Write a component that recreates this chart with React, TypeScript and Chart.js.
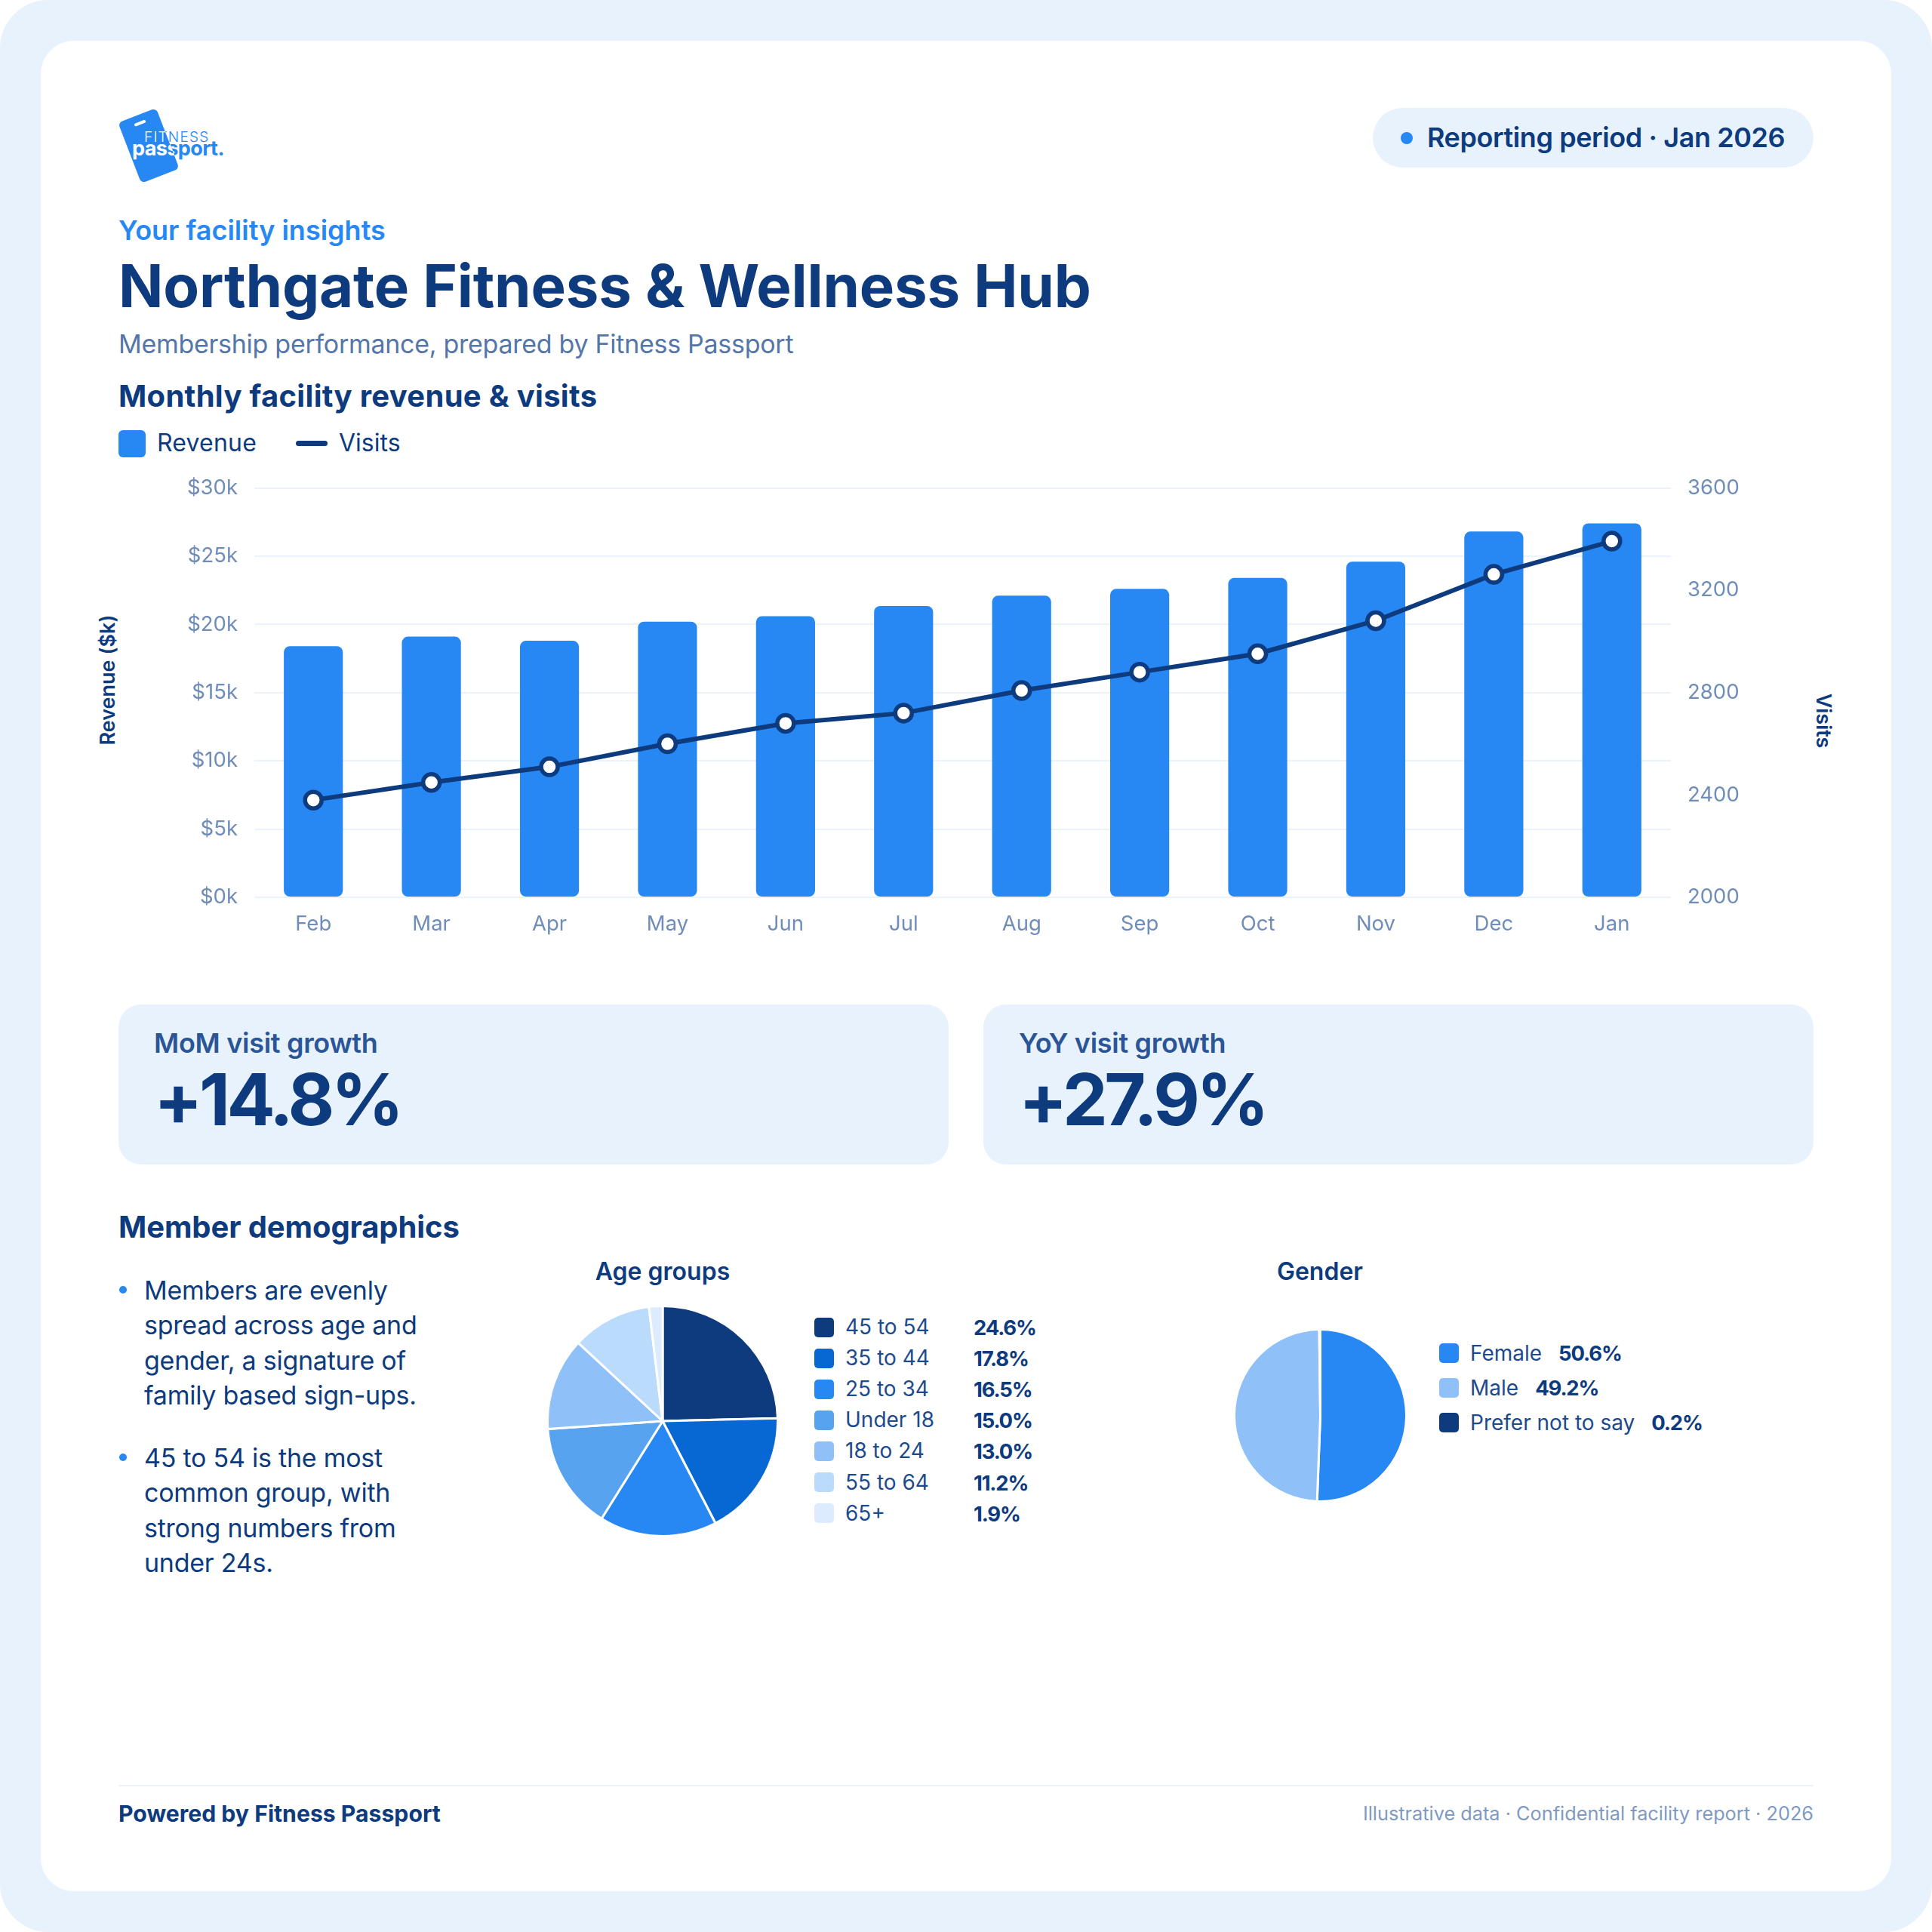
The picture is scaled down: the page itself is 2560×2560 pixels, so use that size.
import React, { useRef, useEffect } from 'react';
import { Chart, registerables } from 'chart.js';

Chart.register(...registerables);

const FONT = 'Inter, sans-serif';
const NAVY = '#0D3B7E';
const BLUE = '#2787F3';
const PALE = '#E8F2FD';
const GRID = '#EAF2FC';
const MUTED = '#6F8DB8';

const months = ['Feb', 'Mar', 'Apr', 'May', 'Jun', 'Jul', 'Aug', 'Sep', 'Oct', 'Nov', 'Dec', 'Jan'];
const revenue = [18.4, 19.1, 18.8, 20.2, 20.6, 21.35, 22.1, 22.6, 23.4, 24.6, 26.8, 27.4];
const visits = [2380, 2449, 2510, 2600, 2680, 2720, 2808, 2880, 2952, 3081, 3262, 3392];

const ageLabels = ['45 to 54', '35 to 44', '25 to 34', 'Under 18', '18 to 24', '55 to 64', '65+'];
const ageValues = [24.6, 17.8, 16.5, 15.0, 13.0, 11.2, 1.9];
const ageColors = ['#0D3B7E', '#0868D3', '#2787F3', '#58A3EF', '#8FC1F8', '#BBDBFC', '#DCEBFD'];

const genderLabels = ['Female', 'Male', 'Prefer not to say'];
const genderValues = [50.6, 49.2, 0.2];
const genderColors = ['#2787F3', '#8FC1F8', '#0D3B7E'];

const bulletOne = ['Members are evenly', 'spread across age and', 'gender, a signature of', 'family based sign-ups.'];
const bulletTwo = ['45 to 54 is the most', 'common group, with', 'strong numbers from', 'under 24s.'];

// text placed by its left edge (or right edge) and vertical centre
const T: React.FC<{ x?: number; right?: number; cy: number; size: number; weight?: number; color?: string; ls?: number; center?: boolean; children: React.ReactNode }> = ({ x, right, cy, size, weight = 400, color = NAVY, ls = 0, center, children }) => (
  <div style={{
    position: 'absolute', left: x, right: right !== undefined ? 2560 - right : undefined, top: cy,
    transform: center ? 'translate(-50%, -50%)' : 'translateY(-50%)',
    fontFamily: FONT, fontSize: size, fontWeight: weight, color, letterSpacing: ls, whiteSpace: 'nowrap', lineHeight: 1.2,
  }}>{children}</div>
);

const Box: React.FC<{ x: number; y: number; w: number; h: number; r: number; color: string }> = ({ x, y, w, h, r, color }) => (
  <div style={{ position: 'absolute', left: x, top: y, width: w, height: h, borderRadius: r, background: color }} />
);

const ComboChart: React.FC = () => {
  const canvas = useRef<HTMLCanvasElement>(null);

  useEffect(() => {
    if (!canvas.current) return;
    const tickFont = { family: FONT, size: 27.5 };
    const chart = new Chart(canvas.current, {
      type: 'bar',
      data: {
        labels: months,
        datasets: [
          {
            type: 'line', label: 'Visits', data: visits, yAxisID: 'y1', order: 0,
            borderColor: NAVY, borderWidth: 6, tension: 0,
            pointRadius: 11, pointBorderWidth: 5.5, pointBackgroundColor: '#fff', pointBorderColor: NAVY,
          },
          {
            type: 'bar', label: 'Revenue', data: revenue, yAxisID: 'y', order: 1,
            backgroundColor: BLUE, barPercentage: 0.5, categoryPercentage: 1, borderRadius: 8, borderSkipped: false,
          },
        ],
      },
      options: {
        responsive: false,
        animation: false,
        layout: { padding: { top: 25, left: 0, right: 0, bottom: 0 } },
        plugins: { legend: { display: false }, tooltip: { enabled: false } },
        scales: {
          x: {
            grid: { display: false }, border: { display: false },
            ticks: { color: MUTED, font: tickFont, padding: 11, maxRotation: 0 },
            afterFit: (s: any) => { s.height = 81; },
          },
          y: {
            position: 'left', min: 0, max: 30,
            grid: { color: GRID, lineWidth: 2, drawTicks: false }, border: { display: false },
            ticks: { stepSize: 5, color: MUTED, font: tickFont, padding: 22, callback: (v: any) => `$${v}k` },
            afterFit: (s: any) => { s.width = 137; },
          },
          y1: {
            position: 'right', min: 2000, max: 3600,
            grid: { display: false, drawTicks: false }, border: { display: false },
            ticks: { stepSize: 400, color: MUTED, font: tickFont, padding: 22, callback: (v: any) => String(v) },
            afterFit: (s: any) => { s.width = 146; },
          },
        },
      },
    } as any);
    return () => chart.destroy();
  }, []);

  return <canvas ref={canvas} width={2160} height={662} style={{ position: 'absolute', left: 200, top: 608, width: 2160, height: 662 }} />;
};

const Pie: React.FC<{ cx: number; cy: number; r: number; labels: string[]; values: number[]; colors: string[] }> = ({ cx, cy, r, labels, values, colors }) => {
  const canvas = useRef<HTMLCanvasElement>(null);

  useEffect(() => {
    if (!canvas.current) return;
    const chart = new Chart(canvas.current, {
      type: 'pie',
      data: { labels, datasets: [{ data: values, backgroundColor: colors, borderColor: '#fff', borderWidth: 3 }] },
      options: {
        responsive: false,
        animation: false,
        plugins: { legend: { display: false }, tooltip: { enabled: false } },
      },
    });
    return () => chart.destroy();
  }, []);

  const size = 2 * r + 3;
  return <canvas ref={canvas} width={size} height={size} style={{ position: 'absolute', left: cx - size / 2, top: cy - size / 2, width: size, height: size }} />;
};

const logoClip = 'polygon(157px 162px, 207px 143px, 238px 223px, 189px 242px)';

const Logo: React.FC = () => {
  const words = (color: string) => (
    <>
      <T x={191} cy={182} size={19} weight={300} color={color} ls={1.2}>FITNESS</T>
      <T x={175} cy={197} size={27} weight={700} color={color} ls={-0.6}>passport.</T>
    </>
  );
  return (
    <>
      {words(BLUE)}
      <div style={{ position: 'absolute', left: 170, top: 150, width: 54, height: 86, borderRadius: 6, background: BLUE, transform: 'rotate(-21deg)' }}>
        <div style={{ position: 'absolute', left: 19, top: 9, width: 16, height: 4, borderRadius: 2, background: '#fff' }} />
      </div>
      <div style={{ position: 'absolute', left: 0, top: 0, width: 2560, height: 400, clipPath: logoClip }}>{words('#fff')}</div>
    </>
  );
};

const Bullet: React.FC<{ lines: string[]; y: number }> = ({ lines, y }) => (
  <>
    <Box x={158} y={y - 5} w={10} h={10} r={5} color={BLUE} />
    {lines.map((line, i) => <T key={line} x={191} cy={y + 1 + i * 46.4} size={34} ls={-0.24}>{line}</T>)}
  </>
);

const StatCard: React.FC<{ x: number; label: string; value: string }> = ({ x, label, value }) => (
  <>
    <Box x={x} y={1331} w={1100} h={212} r={30} color={PALE} />
    <T x={x + 47} cy={1383} size={36} weight={600} color="#2B5596" ls={-0.3}>{label}</T>
    <T x={x + 47} cy={1457} size={95} weight={700} ls={-4.5}>{value}</T>
  </>
);

const App: React.FC = () => {
  useEffect(() => {
    document.body.style.margin = '0';
    document.body.style.background = '#fff';
  }, []);

  return (
    <div style={{ position: 'relative', width: 2560, height: 2560, overflow: 'hidden', background: '#fff' }}>
      <Box x={0} y={0} w={2560} h={2560} r={64} color={PALE} />
      <Box x={54} y={54} w={2452} h={2452} r={44} color="#fff" />

      <Logo />
      <Box x={1819} y={143} w={584} h={79} r={40} color={PALE} />
      <Box x={1856} y={175} w={16} h={16} r={8} color={BLUE} />
      <T x={1891} cy={183} size={36} weight={600} ls={-0.42}>Reporting period · Jan 2026</T>

      <T x={157} cy={306} size={36} weight={600} color={BLUE}>Your facility insights</T>
      <T x={157} cy={379} size={78} weight={700} ls={-0.2}>Northgate Fitness &amp; Wellness Hub</T>
      <T x={157} cy={456} size={34} color="#5576A8" ls={-0.28}>Membership performance, prepared by Fitness Passport</T>
      <T x={157} cy={525} size={40} weight={700} ls={0.3}>Monthly facility revenue &amp; visits</T>

      <Box x={157} y={570} w={36} h={36} r={6} color={BLUE} />
      <T x={208} cy={587} size={32} ls={0.2}>Revenue</T>
      <Box x={392} y={584} w={42} h={7} r={3.5} color={NAVY} />
      <T x={449} cy={587} size={32}>Visits</T>

      <ComboChart />
      <div style={{ position: 'absolute', left: 142, top: 901, transform: 'translate(-50%, -50%) rotate(-90deg)', fontFamily: FONT, fontSize: 27, fontWeight: 600, color: NAVY, whiteSpace: 'nowrap' }}>Revenue ($k)</div>
      <div style={{ position: 'absolute', left: 2416, top: 955, transform: 'translate(-50%, -50%) rotate(90deg)', fontFamily: FONT, fontSize: 27, fontWeight: 600, color: NAVY, whiteSpace: 'nowrap' }}>Visits</div>

      <StatCard x={157} label="MoM visit growth" value="+14.8%" />
      <StatCard x={1303} label="YoY visit growth" value="+27.9%" />

      <T x={157} cy={1626} size={40} weight={700} ls={-0.1}>Member demographics</T>
      <Bullet lines={bulletOne} y={1709} />
      <Bullet lines={bulletTwo} y={1931} />

      <T x={878} cy={1685} size={32} weight={600} center>Age groups</T>
      <Pie cx={878} cy={1883} r={152.5} labels={ageLabels} values={ageValues} colors={ageColors} />
      {ageLabels.map((label, i) => (
        <React.Fragment key={label}>
          <Box x={1079} y={1745.5 + i * 41.1} w={26} h={26} r={5} color={ageColors[i]} />
          <T x={1120} cy={1759 + i * 41.1} size={28} color="#1D4A8C">{label}</T>
          <T x={1290} cy={1759 + i * 41.1} size={27.5} weight={700} ls={-1.2}>{ageValues[i].toFixed(1)}%</T>
        </React.Fragment>
      ))}

      <T x={1749} cy={1685} size={32} weight={600} center>Gender</T>
      <Pie cx={1749} cy={1875} r={114} labels={genderLabels} values={genderValues} colors={genderColors} />
      {genderLabels.map((label, i) => (
        <React.Fragment key={label}>
          <Box x={1907} y={1780 + i * 46} w={26} h={26} r={5} color={genderColors[i]} />
          <T x={1948} cy={1794 + i * 46} size={28} color="#1D4A8C">
            {label}<span style={{ fontWeight: 700, fontSize: 27.5, letterSpacing: -1.2, color: NAVY, marginLeft: 22 }}>{genderValues[i].toFixed(1)}%</span>
          </T>
        </React.Fragment>
      ))}

      <Box x={157} y={2365} w={2246} h={2} r={0} color={GRID} />
      <T x={157} cy={2403} size={30.2} weight={700}>Powered by Fitness Passport</T>
      <T right={2403} cy={2403} size={25.3} color="#7F9AC2">Illustrative data · Confidential facility report · 2026</T>
    </div>
  );
};

export default App;
